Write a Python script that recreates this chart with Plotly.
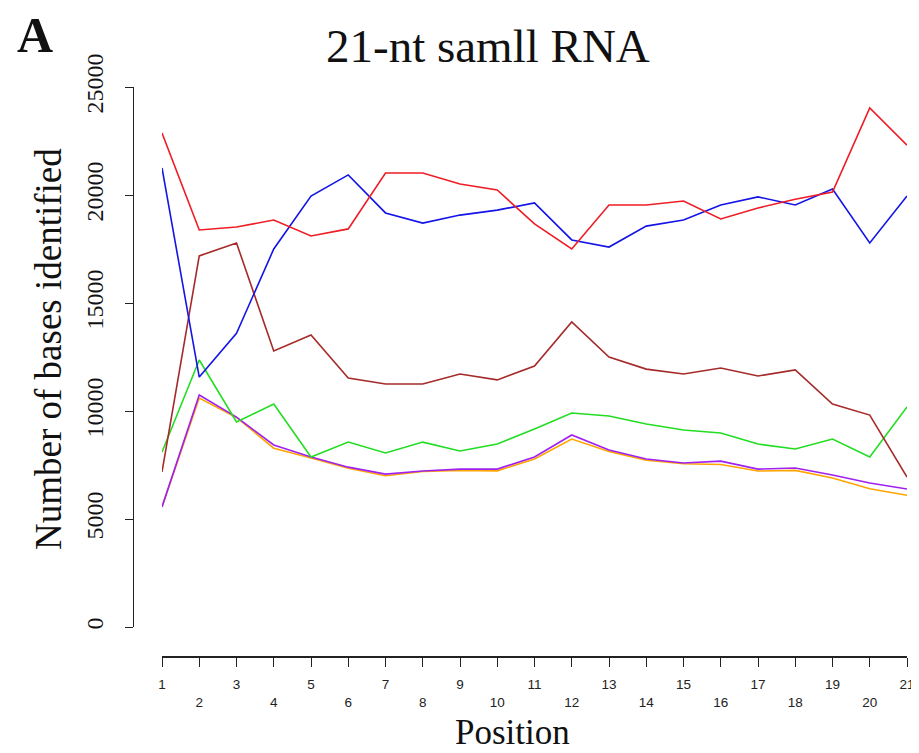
import plotly.graph_objects as go

positions = list(range(1, 22))
tick_labels = [str(p) if p % 2 == 1 else "<br>" + str(p) for p in positions]

red_vals = [22870, 18380, 18520, 18840, 18100, 18430, 21020, 21020, 20510, 20230,
            18660, 17500, 19540, 19540, 19720, 18890, 19400, 19800, 20140, 24030, 22310]
blue_vals = [21250, 11570, 13600, 17500, 19950, 20930, 19170, 18700, 19070, 19300,
             19630, 17920, 17590, 18560, 18840, 19540, 19910, 19540, 20280, 17780, 19950]
brown_vals = [7180, 17180, 17780, 12780, 13520, 11530, 11250, 11250, 11710, 11440,
              12080, 14120, 12500, 11940, 11710, 11990, 11620, 11900, 10320, 9810, 6940]
green_vals = [8100, 12360, 9490, 10320, 7870, 8560, 8060, 8560, 8150, 8470,
              9170, 9910, 9770, 9400, 9120, 8980, 8470, 8240, 8700, 7870, 10190]
purple_vals = [5560, 10740, 9720, 8430, 7870, 7400, 7080, 7220, 7310, 7310,
               7870, 8890, 8190, 7780, 7590, 7680, 7310, 7360, 7040, 6670, 6390]
orange_vals = [5560, 10600, 9700, 8280, 7820, 7350, 7000, 7200, 7250, 7230,
               7780, 8700, 8130, 7720, 7560, 7520, 7220, 7250, 6900, 6400, 6100]

series = [
    (orange_vals, "#FFA500"),
    (purple_vals, "#A020F0"),
    (green_vals, "#22DD22"),
    (brown_vals, "#A52A2A"),
    (blue_vals, "#1414E6"),
    (red_vals, "#EE1C25"),
]

y_ticks = [0, 5000, 10000, 15000, 20000, 25000]

fig = go.Figure()
for vals, col in series:
    fig.add_trace(go.Scatter(x=positions, y=vals, mode="lines",
                             line=dict(color=col, width=1.6), showlegend=False,
                             hoverinfo="skip"))

# the page body has an 8px margin; compensate so the figure fills the window
OFF = 8
W, H = 919 - OFF, 753 - OFF
AX_L, PLOT_L, PLOT_R = 133 - OFF, 162 - OFF, 907 - OFF
AX_T, Y0, AX_B = 87 - OFF, 627 - OFF, 657 - OFF
ml, mr, mt, mb = AX_L, W - PLOT_R, AX_T, H - AX_B

fig.update_layout(
    width=W, height=H,
    margin=dict(l=ml, r=mr, t=mt, b=mb, autoexpand=False),
    paper_bgcolor="white", plot_bgcolor="white",
    showlegend=False,
    xaxis=dict(
        domain=[(PLOT_L - AX_L) / (PLOT_R - AX_L), 1],
        range=[1, 21], anchor="free", position=0,
        tickmode="array", tickvals=positions, ticktext=tick_labels,
        ticks="outside", ticklen=9, tickwidth=1.2, tickcolor="#222",
        showline=True, linecolor="#222", linewidth=1.5,
        showgrid=False, zeroline=False, automargin=False,
        tickfont=dict(family="Liberation Sans Narrow, Liberation Sans, Arial", size=13.5, color="#222"),
        tickangle=0, ticklabelstandoff=6,
    ),
    yaxis=dict(
        domain=[(AX_B - Y0) / (AX_B - AX_T), 1],
        range=[0, 25000], anchor="free", position=0,
        tickmode="array", tickvals=y_ticks, ticktext=[str(v) for v in y_ticks],
        ticks="outside", ticklen=8, tickwidth=1.2, tickcolor="#222",
        showline=True, linecolor="#222", linewidth=1.2,
        showgrid=False, zeroline=False, automargin=False,
        tickangle=-90, ticklabelstandoff=12,
        tickfont=dict(family="Liberation Serif, Times New Roman, serif", size=24, color="#111"),
    ),
    annotations=[
        dict(text="21-nt samll RNA", x=488, y=46, yanchor="middle", xref="paper", yref="paper",
             showarrow=False, font=dict(family="Liberation Serif, serif", size=47, color="#111")),
        dict(text="<b>A</b>", x=35, y=35, yanchor="middle", xref="paper", yref="paper",
             showarrow=False, font=dict(family="Liberation Serif, serif", size=50, color="#111")),
        dict(text="Number of bases identified", x=48, y=349, yanchor="middle", xref="paper", yref="paper",
             textangle=-90, showarrow=False,
             font=dict(family="Liberation Serif, serif", size=37, color="#111")),
        dict(text="Position", x=512, y=753, yanchor="bottom", xref="paper", yref="paper",
             showarrow=False, borderpad=0,
             font=dict(family="Liberation Serif, serif", size=35, color="#111")),
    ],
)

# convert window-pixel positions of annotations to paper fractions
pw = W - ml - mr
ph = H - mt - mb
new_ann = []
for a in fig.layout.annotations:
    a.x = (a.x - OFF - ml) / pw
    a.y = (H - mb - (a.y - OFF)) / ph
    a.xanchor = "center"
    new_ann.append(a)
fig.layout.annotations = new_ann

fig.write_html("out.html")
